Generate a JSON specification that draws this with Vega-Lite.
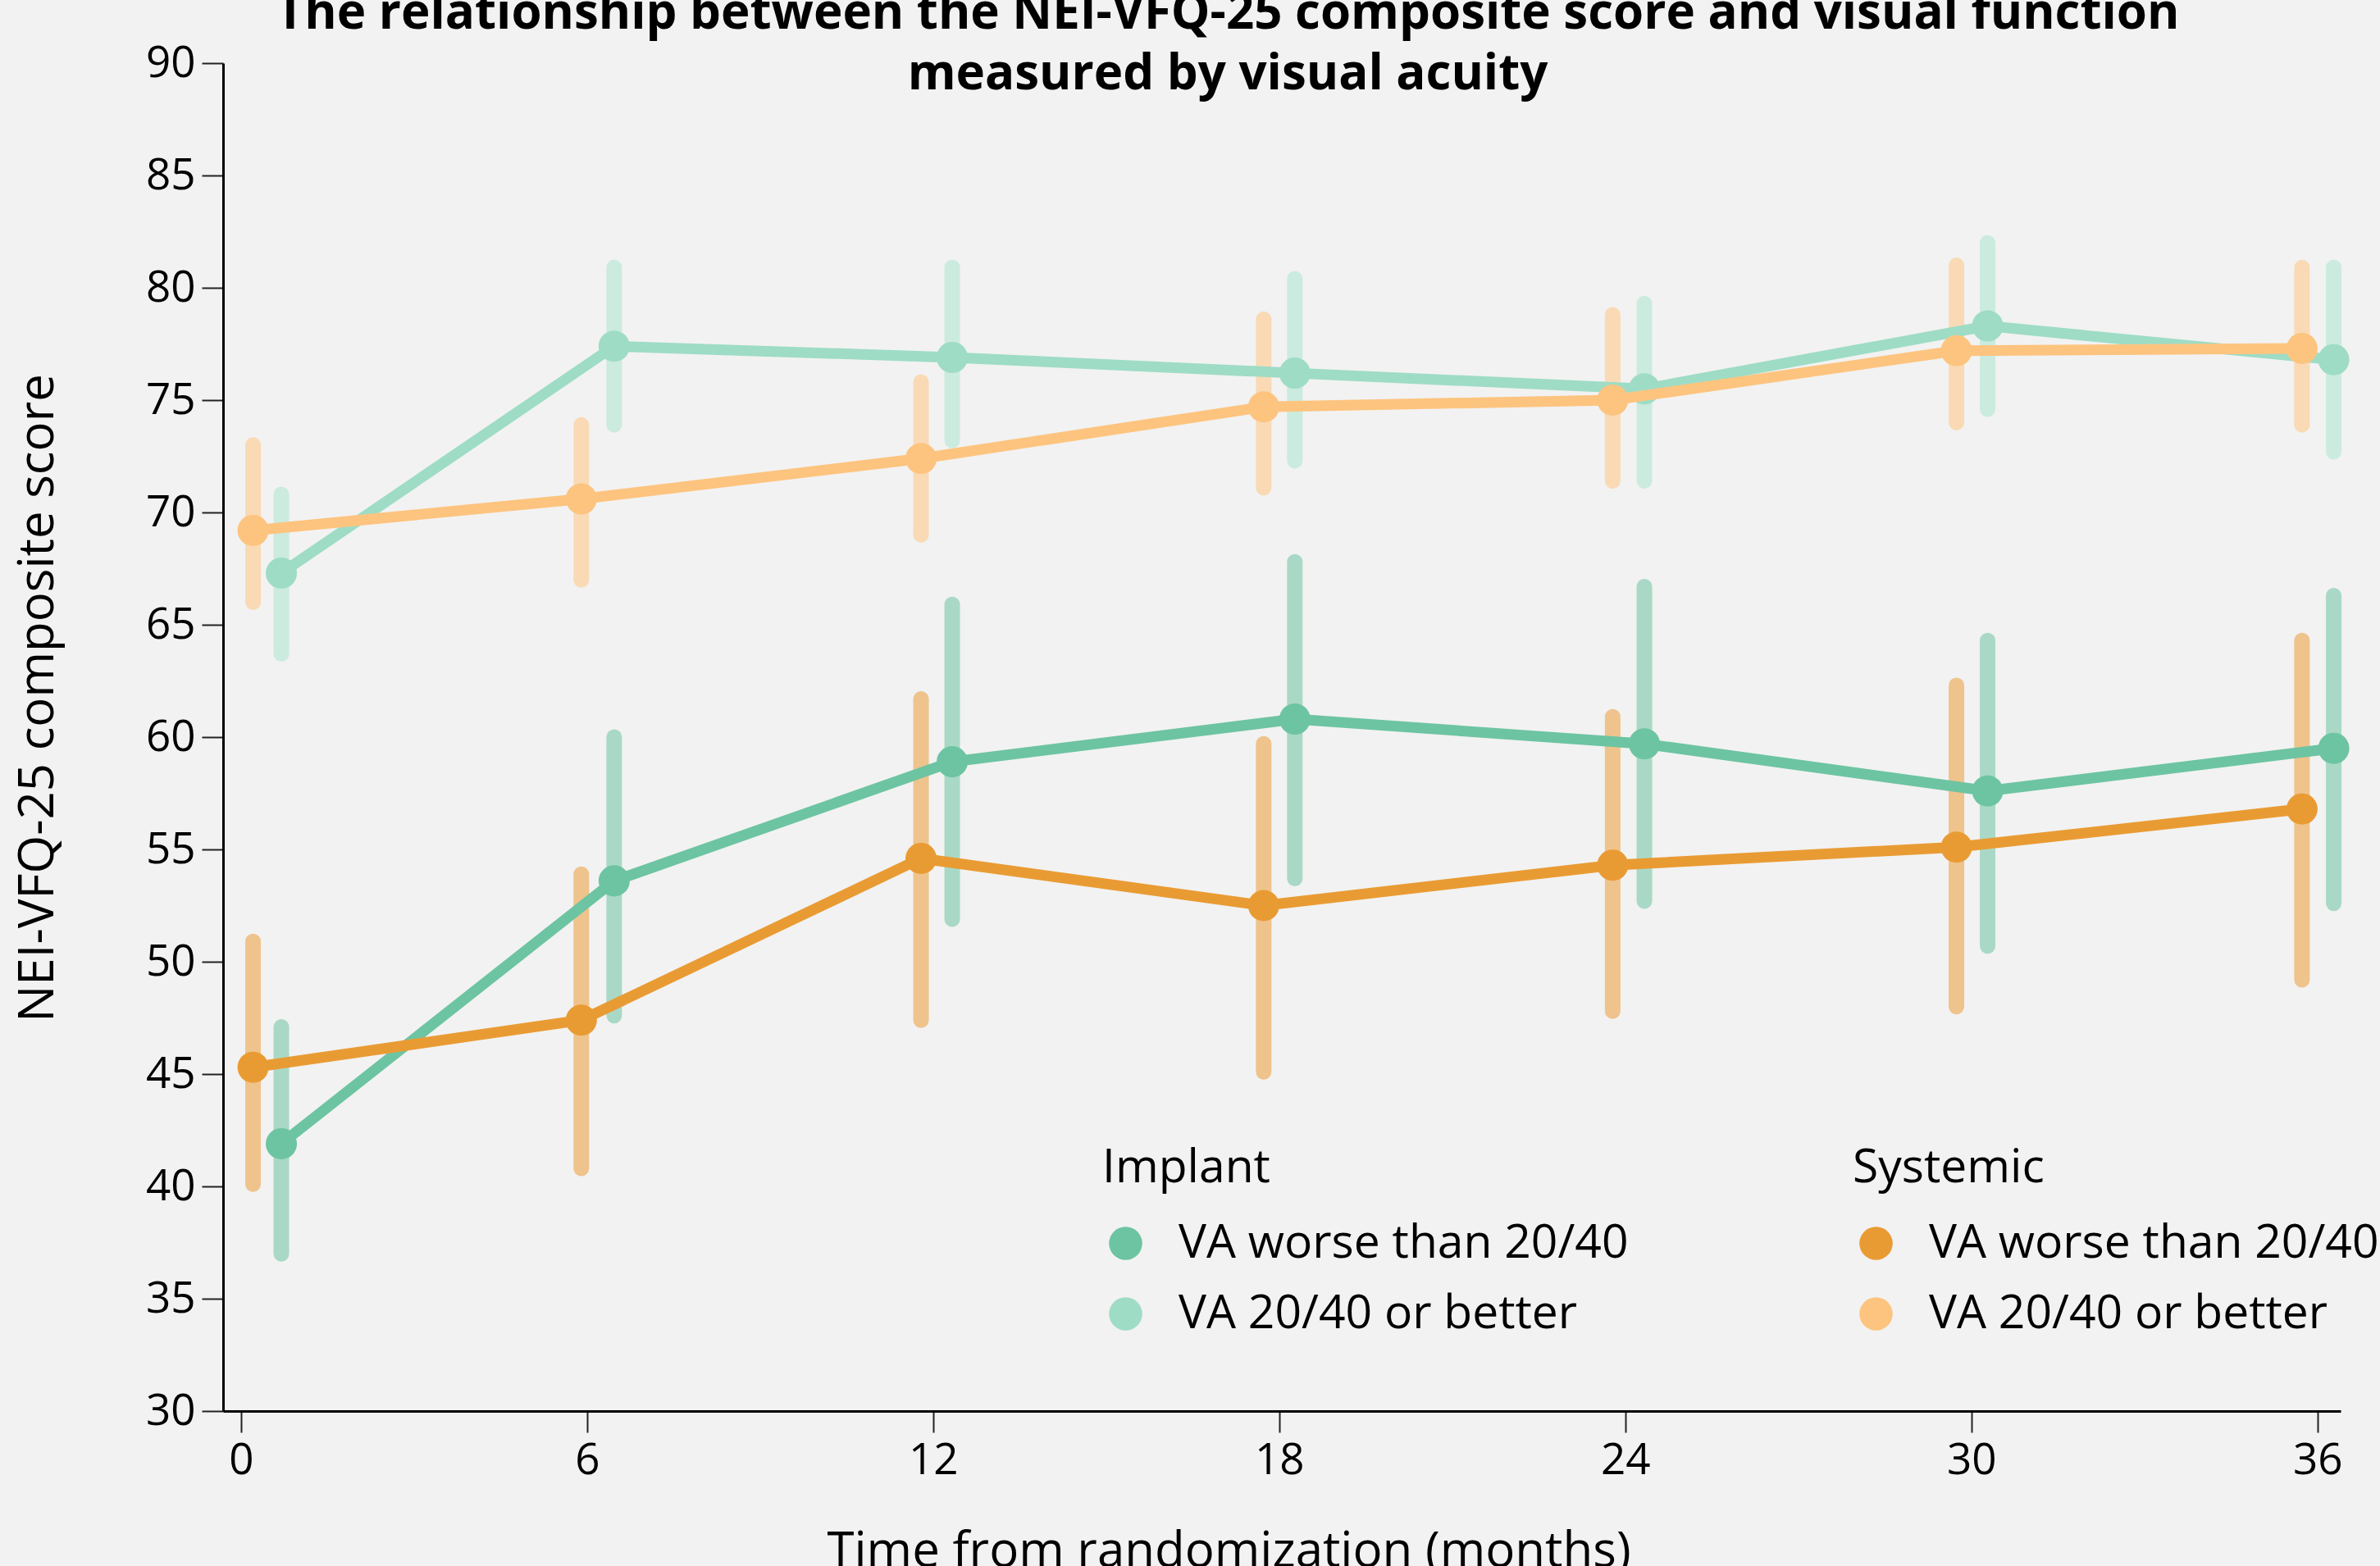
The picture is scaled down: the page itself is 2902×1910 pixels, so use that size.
{
  "$schema": "https://vega.github.io/schema/vega-lite/v6.json",
  "width": 2582,
  "height": 1644,
  "autosize": "none",
  "padding": {"left": 272, "top": 77, "right": 48, "bottom": 189},
  "background": "#f2f2f2",
  "title": {
    "text": ["The relationship between the NEI-VFQ-25 composite score and visual function", "measured by visual acuity"],
    "font": "Open Sans",
    "fontSize": 60,
    "fontWeight": "bold",
    "lineHeight": 74,
    "color": "#000000",
    "anchor": "middle",
    "frame": "group",
    "dx": -66,
    "offset": -71
  },
  "data": {
    "values": [
      {"group": "Implant", "va": "VA worse than 20/40", "t": 0.7, "score": 41.9, "lo": 37.0, "hi": 47.1},
      {"group": "Implant", "va": "VA worse than 20/40", "t": 6.47, "score": 53.6, "lo": 47.6, "hi": 60.0},
      {"group": "Implant", "va": "VA worse than 20/40", "t": 12.33, "score": 58.9, "lo": 51.9, "hi": 65.9},
      {"group": "Implant", "va": "VA worse than 20/40", "t": 18.27, "score": 60.8, "lo": 53.7, "hi": 67.8},
      {"group": "Implant", "va": "VA worse than 20/40", "t": 24.33, "score": 59.7, "lo": 52.7, "hi": 66.7},
      {"group": "Implant", "va": "VA worse than 20/40", "t": 30.28, "score": 57.6, "lo": 50.7, "hi": 64.3},
      {"group": "Implant", "va": "VA worse than 20/40", "t": 36.28, "score": 59.5, "lo": 52.6, "hi": 66.3},
      {"group": "Implant", "va": "VA 20/40 or better", "t": 0.7, "score": 67.3, "lo": 63.7, "hi": 70.8},
      {"group": "Implant", "va": "VA 20/40 or better", "t": 6.47, "score": 77.4, "lo": 73.9, "hi": 80.9},
      {"group": "Implant", "va": "VA 20/40 or better", "t": 12.33, "score": 76.9, "lo": 73.2, "hi": 80.9},
      {"group": "Implant", "va": "VA 20/40 or better", "t": 18.27, "score": 76.2, "lo": 72.3, "hi": 80.4},
      {"group": "Implant", "va": "VA 20/40 or better", "t": 24.33, "score": 75.5, "lo": 71.4, "hi": 79.3},
      {"group": "Implant", "va": "VA 20/40 or better", "t": 30.28, "score": 78.3, "lo": 74.6, "hi": 82.0},
      {"group": "Implant", "va": "VA 20/40 or better", "t": 36.28, "score": 76.8, "lo": 72.7, "hi": 80.9},
      {"group": "Systemic", "va": "VA worse than 20/40", "t": 0.21, "score": 45.3, "lo": 40.1, "hi": 50.9},
      {"group": "Systemic", "va": "VA worse than 20/40", "t": 5.9, "score": 47.4, "lo": 40.8, "hi": 53.9},
      {"group": "Systemic", "va": "VA worse than 20/40", "t": 11.79, "score": 54.6, "lo": 47.4, "hi": 61.7},
      {"group": "Systemic", "va": "VA worse than 20/40", "t": 17.73, "score": 52.5, "lo": 45.1, "hi": 59.7},
      {"group": "Systemic", "va": "VA worse than 20/40", "t": 23.78, "score": 54.3, "lo": 47.8, "hi": 60.9},
      {"group": "Systemic", "va": "VA worse than 20/40", "t": 29.74, "score": 55.1, "lo": 48.0, "hi": 62.3},
      {"group": "Systemic", "va": "VA worse than 20/40", "t": 35.73, "score": 56.8, "lo": 49.2, "hi": 64.3},
      {"group": "Systemic", "va": "VA 20/40 or better", "t": 0.21, "score": 69.2, "lo": 66.0, "hi": 73.0},
      {"group": "Systemic", "va": "VA 20/40 or better", "t": 5.9, "score": 70.6, "lo": 67.0, "hi": 73.9},
      {"group": "Systemic", "va": "VA 20/40 or better", "t": 11.79, "score": 72.4, "lo": 69.0, "hi": 75.8},
      {"group": "Systemic", "va": "VA 20/40 or better", "t": 17.73, "score": 74.7, "lo": 71.1, "hi": 78.6},
      {"group": "Systemic", "va": "VA 20/40 or better", "t": 23.78, "score": 75.0, "lo": 71.4, "hi": 78.8},
      {"group": "Systemic", "va": "VA 20/40 or better", "t": 29.74, "score": 77.2, "lo": 74.0, "hi": 81.0},
      {"group": "Systemic", "va": "VA 20/40 or better", "t": 35.73, "score": 77.3, "lo": 73.9, "hi": 80.9}
    ]
  },
  "encoding": {
    "x": {
      "field": "t",
      "type": "quantitative",
      "title": "Time from randomization (months)",
      "scale": {"domain": [-0.31, 36.4], "nice": false, "zero": false},
      "axis": {
        "values": [0, 6, 12, 18, 24, 30, 36],
        "labelPadding": 8,
        "titleX": 1226,
        "titleY": 189,
        "titleBaseline": "alphabetic"
      }
    },
    "y": {
      "field": "score",
      "type": "quantitative",
      "title": "NEI-VFQ-25 composite score",
      "scale": {"domain": [30, 90], "nice": false, "zero": false},
      "axis": {
        "values": [30, 35, 40, 45, 50, 55, 60, 65, 70, 75, 80, 85, 90],
        "labelPadding": 8,
        "titleX": -226,
        "titleY": 774,
        "titleBaseline": "middle",
        "titleAngle": -90
      }
    }
  },
  "layer": [
    {
      "layer": [
        {
          "transform": [{"filter": "datum.group === 'Implant'"}],
          "mark": {"type": "rule", "strokeWidth": 19, "strokeCap": "round"},
          "encoding": {
            "y": {"field": "lo", "type": "quantitative", "title": "NEI-VFQ-25 composite score", "scale": {"domain": [30, 90], "nice": false, "zero": false}},
            "y2": {"field": "hi"},
            "color": {
              "field": "va",
              "type": "nominal",
              "scale": {"domain": ["VA worse than 20/40", "VA 20/40 or better"], "range": ["#a9d9c6", "#cbebdf"]},
              "legend": null
            }
          }
        },
        {
          "transform": [{"filter": "datum.group === 'Systemic'"}],
          "mark": {"type": "rule", "strokeWidth": 19, "strokeCap": "round"},
          "encoding": {
            "y": {"field": "lo", "type": "quantitative", "title": "NEI-VFQ-25 composite score", "scale": {"domain": [30, 90], "nice": false, "zero": false}},
            "y2": {"field": "hi"},
            "color": {
              "field": "va",
              "type": "nominal",
              "scale": {"domain": ["VA worse than 20/40", "VA 20/40 or better"], "range": ["#efc38c", "#f9dab5"]},
              "legend": null
            }
          }
        }
      ],
      "resolve": {"scale": {"color": "independent"}}
    },
    {
      "transform": [{"filter": "datum.group === 'Implant'"}],
      "encoding": {
        "color": {
          "field": "va",
          "type": "nominal",
          "scale": {"domain": ["VA worse than 20/40", "VA 20/40 or better"], "range": ["#6dc4a2", "#9edcc5"]},
          "legend": {
            "title": "Implant",
            "orient": "none",
            "legendX": 1072,
            "legendY": 1320
          }
        }
      },
      "layer": [
        {"mark": {"type": "line", "strokeWidth": 13}},
        {"mark": {"type": "point", "filled": true, "size": 1450, "opacity": 1, "shape": "circle"}}
      ]
    },
    {
      "transform": [{"filter": "datum.group === 'Systemic'"}],
      "encoding": {
        "color": {
          "field": "va",
          "type": "nominal",
          "scale": {"domain": ["VA worse than 20/40", "VA 20/40 or better"], "range": ["#e99b33", "#fdc47f"]},
          "legend": {
            "title": "Systemic",
            "orient": "none",
            "legendX": 1987,
            "legendY": 1320
          }
        }
      },
      "layer": [
        {"mark": {"type": "line", "strokeWidth": 13}},
        {"mark": {"type": "point", "filled": true, "size": 1450, "opacity": 1, "shape": "circle"}}
      ]
    }
  ],
  "resolve": {"scale": {"color": "independent"}},
  "config": {
    "view": {"stroke": null},
    "axis": {
      "grid": false,
      "domainColor": "#000000",
      "domainWidth": 3,
      "tickColor": "#222222",
      "tickWidth": 2,
      "tickSize": 26,
      "labelFont": "Open Sans",
      "labelFontSize": 53,
      "labelColor": "#000000",
      "titleFont": "Open Sans",
      "titleFontSize": 60,
      "titleFontWeight": 500,
      "titleColor": "#000000"
    },
    "legend": {
      "titleFont": "Open Sans",
      "titleFontSize": 57,
      "titleFontWeight": "normal",
      "titleColor": "#000000",
      "titlePadding": 34,
      "titleLimit": 2000,
      "labelFont": "Open Sans",
      "labelFontSize": 57,
      "labelColor": "#000000",
      "labelLimit": 2000,
      "labelOffset": 36,
      "rowPadding": 28,
      "symbolType": "circle",
      "symbolSize": 1650,
      "symbolStrokeWidth": 0,
      "symbolOpacity": 1,
      "padding": 0
    }
  }
}
